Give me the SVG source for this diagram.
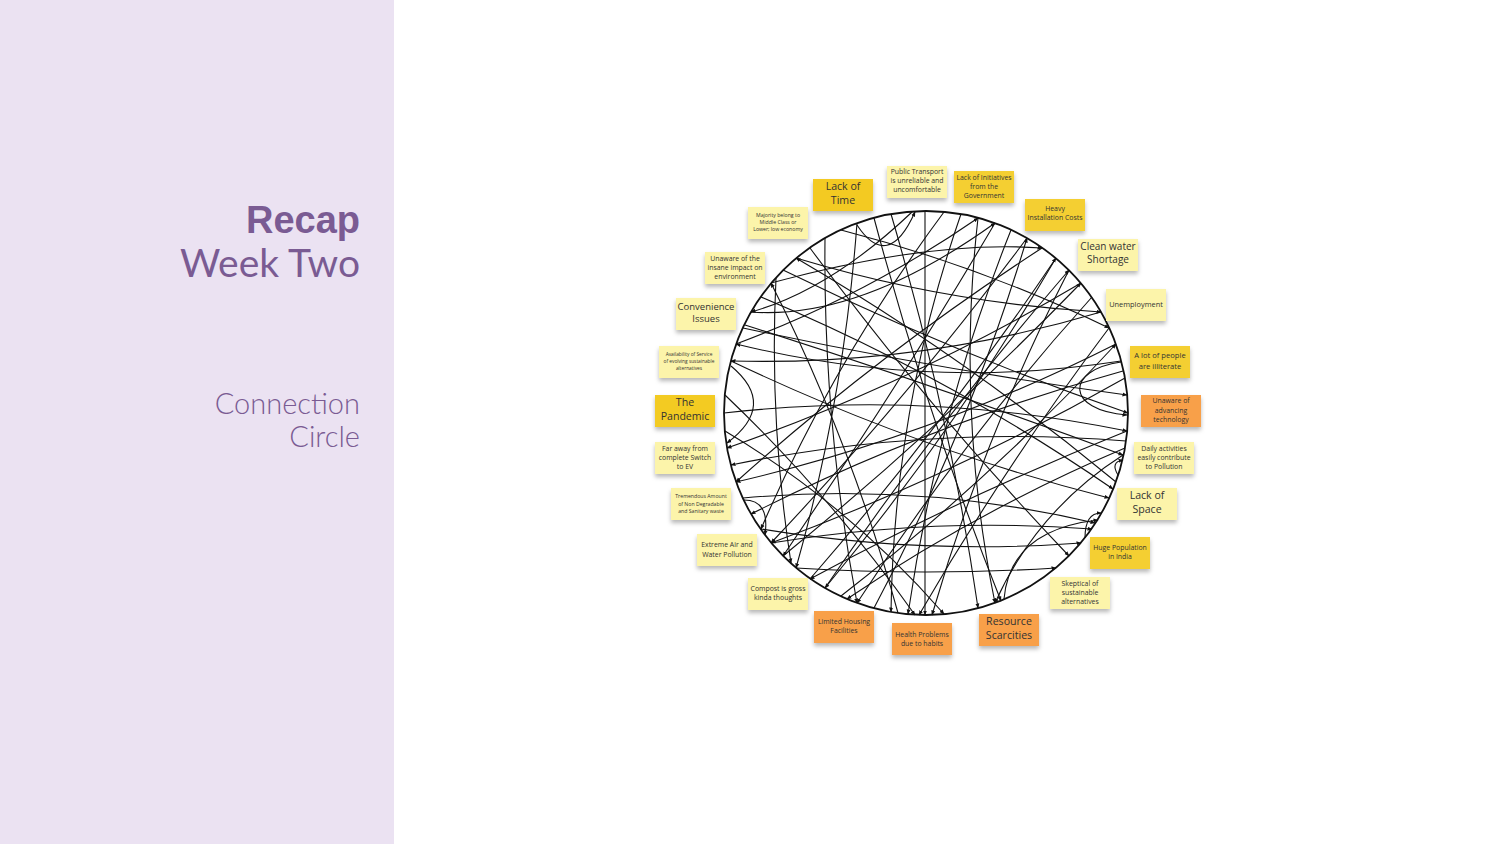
<svg xmlns="http://www.w3.org/2000/svg" width="1500" height="844" viewBox="0 0 1500 844">
<defs>
<style>
.ttl{font-family:Lato,"Liberation Sans",sans-serif;fill:#7a5b93;text-anchor:end}
.n text{font-family:"Open Sans","Noto Sans",sans-serif;fill:#333333;text-anchor:middle}
.s{font-size:6.9px}
.t{font-size:5.2px}
.b{font-size:10.6px}
.pale{fill:#fcf4aa}
.yel{fill:#f4cf30}
.org{fill:#f8a048}
.cn path{fill:none;stroke:#111;stroke-width:1.1;marker-end:url(#ah)}
</style>
<marker id="ah" viewBox="0 0 10 10" refX="9" refY="5" markerWidth="5" markerHeight="5" markerUnits="userSpaceOnUse" orient="auto"><path d="M0,1 L10,5 L0,9 z" fill="#111"/></marker>
<filter id="sh" x="-20%" y="-20%" width="140%" height="160%"><feDropShadow dx="0" dy="3" stdDeviation="2" flood-color="#000" flood-opacity="0.28"/></filter>
</defs>
<rect x="0" y="0" width="1500" height="844" fill="#ffffff"/>
<rect x="0" y="0" width="394" height="844" fill="#ebe2f2"/>
<g id="title">
<text class="ttl" x="360" y="233" font-size="38" font-weight="bold" style="font-family:'Liberation Sans',Arial,sans-serif">Recap</text>
<text class="ttl" x="360" y="277" font-size="39">Week Two</text>
<text class="ttl" x="360" y="414" font-size="29" font-weight="300">Connection</text>
<text class="ttl" x="360" y="447" font-size="29" font-weight="300">Circle</text>
</g>
<circle id="ring" cx="926" cy="413" r="202" fill="none" stroke="#111" stroke-width="1.8"/>
<g id="connectors" class="cn">
<path d="M857,225 Q888,272 915,212"/>
<path d="M925,211 L925,615"/>
<path d="M912,212 Q830,290 751,312"/>
<path d="M810,248 Q930,410 1069,556"/>
<path d="M825,238 Q823,422 857,603"/>
<path d="M857,223 Q844,399 796,568"/>
<path d="M776,278 Q769,421 791,563"/>
<path d="M771,283 Q930,240 1042,248"/>
<path d="M751,312 Q860,320 995,223"/>
<path d="M743,328 Q934,369 1127,395"/>
<path d="M745,325 Q934,385 1123,455"/>
<path d="M1121,362 C1065,370 1065,410 1127,415"/>
<path d="M731,366 Q778,405 727,443"/>
<path d="M744,500 Q770,500 765,535"/>
<path d="M1085,538 Q1085,513 1101,513"/>
<path d="M1118,475 Q1110,462 1123,460"/>
<path d="M1004,599 Q1010,530 1098,520"/>
<path d="M961,214 Q894,407 891,612"/>
<path d="M978,218 Q956,412 995,603"/>
<path d="M1011,230 Q937,416 908,614"/>
<path d="M1027,238 Q908,398 771,543"/>
<path d="M1042,248 Q880,353 736,482"/>
<path d="M1056,258 Q954,432 825,588"/>
<path d="M1069,270 Q984,436 932,615"/>
<path d="M1081,283 Q912,383 727,448"/>
<path d="M1092,297 Q962,441 857,603"/>
<path d="M1101,312 Q920,366 731,361"/>
<path d="M1109,328 Q1005,466 919,615"/>
<path d="M1116,344 Q934,436 736,482"/>
<path d="M1121,361 Q927,391 736,344"/>
<path d="M1123,371 Q930,424 751,514"/>
<path d="M1125,378 Q955,475 771,543"/>
<path d="M1127,431 Q964,496 810,579"/>
<path d="M1126,441 Q927,425 731,465"/>
<path d="M1123,455 Q1037,510 995,603"/>
<path d="M1116,482 Q965,357 796,258"/>
<path d="M761,297 Q947,375 1113,489"/>
<path d="M731,361 Q913,448 1109,498"/>
<path d="M743,498 Q921,482 1095,523"/>
<path d="M771,543 Q931,517 1092,529"/>
<path d="M761,529 Q920,555 1081,543"/>
<path d="M796,568 Q926,576 1056,568"/>
<path d="M783,556 Q940,428 1081,283"/>
<path d="M825,588 Q938,422 1069,270"/>
<path d="M841,596 Q989,481 1116,344"/>
<path d="M874,608 Q969,431 1027,238"/>
<path d="M1125,448 Q979,510 847,599"/>
<path d="M725,431 Q849,505 944,614"/>
<path d="M725,395 Q831,496 915,615"/>
<path d="M891,214 Q950,415 978,608"/>
<path d="M874,218 Q926,413 1001,601"/>
<path d="M944,212 Q834,360 761,529"/>
<path d="M995,223 Q902,381 783,556"/>
<path d="M796,258 Q945,303 1101,312"/>
<path d="M841,230 Q980,266 1109,328"/>
<path d="M783,270 Q951,352 1128,413"/>
<path d="M736,344 Q865,296 978,218"/>
<path d="M810,579 Q943,426 1056,258"/>
<path d="M724,413 Q927,390 1127,431"/>
<path d="M898,613 Q851,442 771,283"/>
</g>
<g id="n1" class="n"><rect class="yel" x="813" y="179" width="60" height="32" filter="url(#sh)" style="fill:#f3ca20"/><text class="b" x="843" y="190">Lack of</text><text class="b" x="843" y="204">Time</text></g>
<g id="n2" class="n"><rect class="pale" x="887" y="166" width="60" height="32" filter="url(#sh)"/><text class="s" x="917" y="174">Public Transport</text><text class="s" x="917" y="183">is unreliable and</text><text class="s" x="917" y="192">uncomfortable</text></g>
<g id="n3" class="n"><rect class="yel" x="954" y="171" width="60" height="32" filter="url(#sh)"/><text class="s" x="984" y="180">Lack of Initiatives</text><text class="s" x="984" y="189">from the</text><text class="s" x="984" y="198">Government</text></g>
<g id="n4" class="n"><rect class="yel" x="1025" y="199" width="60" height="32" filter="url(#sh)"/><text class="s" x="1055" y="211">Heavy</text><text class="s" x="1055" y="220">Installation Costs</text></g>
<g id="n5" class="n"><rect class="pale" x="1078" y="239" width="60" height="32" filter="url(#sh)"/><text class="b" x="1108" y="250" style="font-size:10px">Clean water</text><text class="b" x="1108" y="263" style="font-size:10px">Shortage</text></g>
<g id="n6" class="n"><rect class="pale" x="1106" y="289" width="60" height="32" filter="url(#sh)"/><text class="s" x="1136" y="307" style="font-size:7.4px">Unemployment</text></g>
<g id="n7" class="n"><rect class="yel" x="1130" y="346" width="60" height="32" filter="url(#sh)"/><text class="s" x="1160" y="358" style="font-size:7.6px">A lot of people</text><text class="s" x="1160" y="369" style="font-size:7.6px">are illiterate</text></g>
<g id="n8" class="n"><rect class="org" x="1141" y="395" width="60" height="32" filter="url(#sh)"/><text class="s" x="1171" y="403">Unaware of</text><text class="s" x="1171" y="413">advancing</text><text class="s" x="1171" y="422">technology</text></g>
<g id="n9" class="n"><rect class="pale" x="1134" y="442" width="60" height="32" filter="url(#sh)"/><text class="s" x="1164" y="451">Daily activities</text><text class="s" x="1164" y="460">easily contribute</text><text class="s" x="1164" y="469">to Pollution</text></g>
<g id="n10" class="n"><rect class="pale" x="1117" y="488" width="60" height="32" filter="url(#sh)"/><text class="b" x="1147" y="499">Lack of</text><text class="b" x="1147" y="513">Space</text></g>
<g id="n11" class="n"><rect class="yel" x="1090" y="537" width="60" height="32" filter="url(#sh)"/><text class="s" x="1120" y="550">Huge Population</text><text class="s" x="1120" y="559">in India</text></g>
<g id="n12" class="n"><rect class="pale" x="1050" y="577" width="60" height="32" filter="url(#sh)"/><text class="s" x="1080" y="586">Skeptical of</text><text class="s" x="1080" y="595">sustainable</text><text class="s" x="1080" y="604">alternatives</text></g>
<g id="n13" class="n"><rect class="org" x="979" y="614" width="60" height="32" filter="url(#sh)"/><text class="b" x="1009" y="625">Resource</text><text class="b" x="1009" y="639">Scarcities</text></g>
<g id="n14" class="n"><rect class="org" x="892" y="623" width="60" height="32" filter="url(#sh)"/><text class="s" x="922" y="637">Health Problems</text><text class="s" x="922" y="646">due to habits</text></g>
<g id="n15" class="n"><rect class="org" x="814" y="611" width="60" height="32" filter="url(#sh)"/><text class="s" x="844" y="624">Limited Housing</text><text class="s" x="844" y="633">Facilities</text></g>
<g id="n16" class="n"><rect class="pale" x="748" y="578" width="60" height="32" filter="url(#sh)"/><text class="s" x="778" y="591">Compost is gross</text><text class="s" x="778" y="600">kinda thoughts</text></g>
<g id="n17" class="n"><rect class="pale" x="697" y="534" width="60" height="32" filter="url(#sh)"/><text class="s" x="727" y="547">Extreme Air and</text><text class="s" x="727" y="557">Water Pollution</text></g>
<g id="n18" class="n"><rect class="pale" x="671" y="488" width="60" height="32" filter="url(#sh)"/><text class="t" x="701" y="498">Tremendous Amount</text><text class="t" x="701" y="505.5">of Non Degradable</text><text class="t" x="701" y="513">and Sanitary waste</text></g>
<g id="n19" class="n"><rect class="pale" x="655" y="442" width="60" height="32" filter="url(#sh)"/><text class="s" x="685" y="451">Far away from</text><text class="s" x="685" y="460">complete Switch</text><text class="s" x="685" y="469">to EV</text></g>
<g id="n20" class="n"><rect class="yel" x="655" y="395" width="60" height="32" filter="url(#sh)" style="fill:#f3cb24"/><text class="b" x="685" y="406">The</text><text class="b" x="685" y="420">Pandemic</text></g>
<g id="n21" class="n"><rect class="pale" x="659" y="346" width="60" height="32" filter="url(#sh)"/><text class="t" x="689" y="356" style="font-size:4.8px">Availability of Service</text><text class="t" x="689" y="363" style="font-size:4.8px">of evolving sustainable</text><text class="t" x="689" y="370" style="font-size:4.8px">alternatives</text></g>
<g id="n22" class="n"><rect class="pale" x="676" y="298" width="60" height="32" filter="url(#sh)"/><text class="b" x="706" y="310" style="font-size:9.5px">Convenience</text><text class="b" x="706" y="322" style="font-size:9.5px">Issues</text></g>
<g id="n23" class="n"><rect class="pale" x="705" y="252" width="60" height="32" filter="url(#sh)"/><text class="s" x="735" y="261">Unaware of the</text><text class="s" x="735" y="270">insane impact on</text><text class="s" x="735" y="279">environment</text></g>
<g id="n24" class="n"><rect class="pale" x="748" y="207" width="60" height="32" filter="url(#sh)"/><text class="t" x="778" y="217">Majority belong to</text><text class="t" x="778" y="224">Middle Class or</text><text class="t" x="778" y="231">Lower; low economy</text></g>
</svg>
